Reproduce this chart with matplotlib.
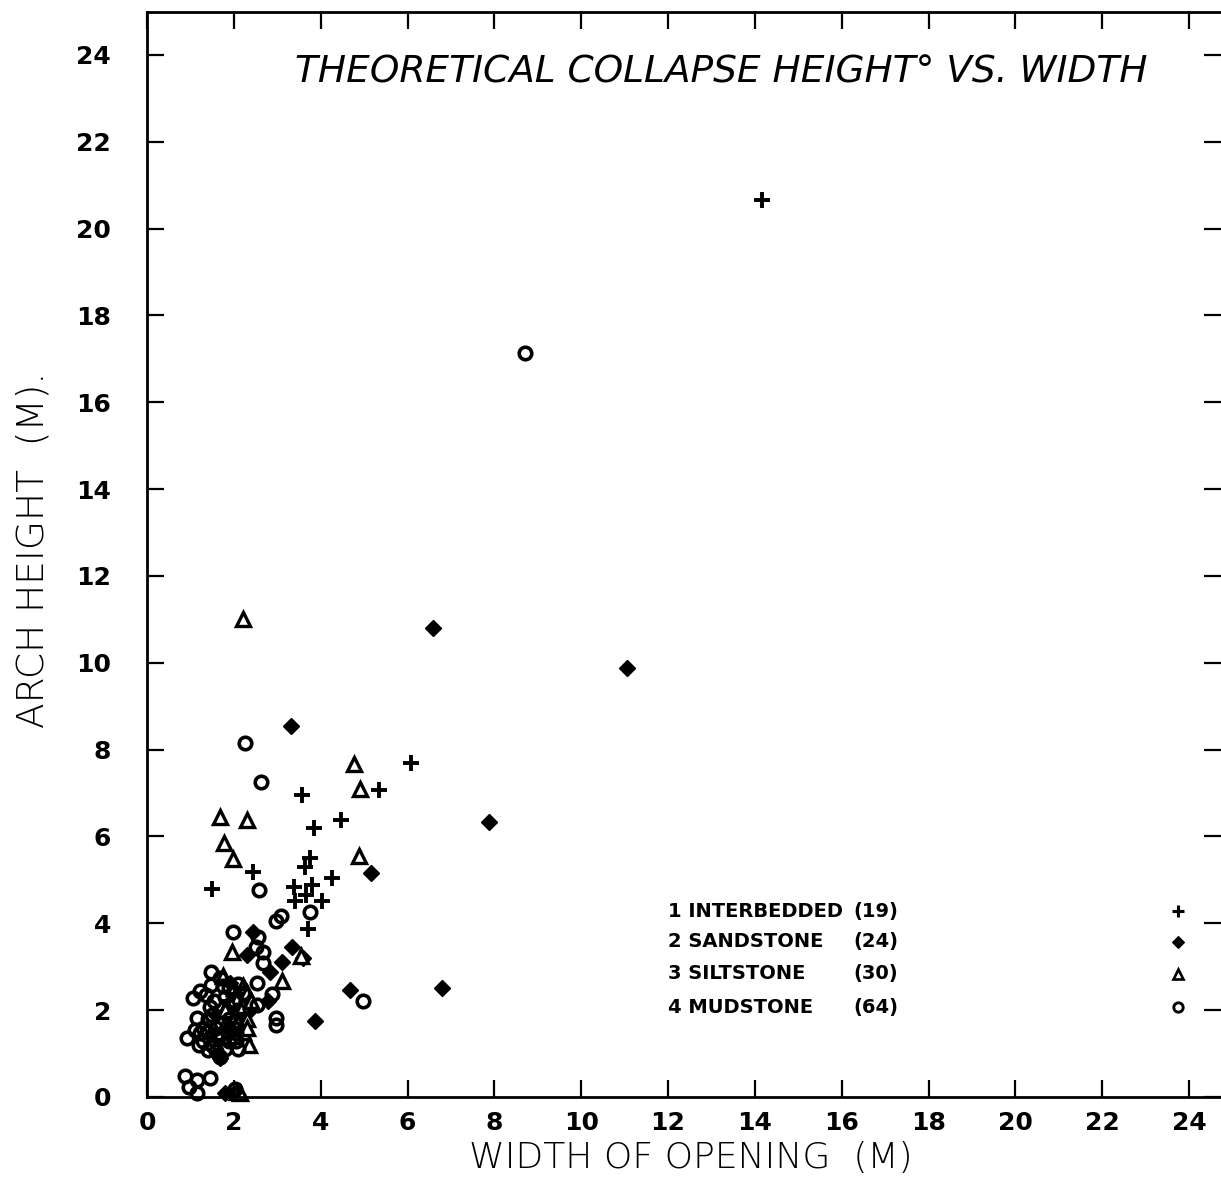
import matplotlib
matplotlib.use("Agg")
import matplotlib.pyplot as plt

# ---- data (width m, height m) ----
inter_x = [14.16, 6.08, 5.35, 3.56, 4.47, 3.85, 3.75, 3.65, 2.45, 1.50,
           4.25, 3.39, 3.81, 3.66, 3.41, 4.04, 3.70, 1.90, 2.20]
inter_y = [20.66, 7.70, 7.07, 6.96, 6.38, 6.20, 5.51, 5.30, 5.19, 4.78,
           5.04, 4.84, 4.88, 4.65, 4.51, 4.51, 3.86, 2.20, 2.00]

sand_x = [6.59, 11.05, 3.32, 7.88, 5.16, 6.79, 4.68, 3.87, 2.45, 3.35,
          2.31, 3.10, 3.60, 2.83, 2.30, 1.68, 2.79, 1.80, 1.91, 2.10,
          1.90, 2.20, 1.60, 2.00]
sand_y = [10.80, 9.88, 8.54, 6.33, 5.17, 2.51, 2.46, 1.74, 3.81, 3.46,
          3.27, 3.12, 3.19, 2.89, 1.93, 0.90, 2.20, 0.09, 2.62, 2.30,
          1.60, 1.70, 1.90, 0.10]

silt_x = [2.20, 4.77, 4.91, 1.67, 2.30, 1.78, 1.99, 4.89, 1.95, 1.76,
          3.12, 2.35, 2.22, 2.07, 3.55, 2.00, 2.10, 2.20, 2.30, 2.00,
          2.10, 2.30, 2.40, 1.90, 2.20, 1.80, 2.00, 2.30, 2.15, 1.70]
silt_y = [11.00, 7.66, 7.09, 6.46, 6.38, 5.84, 5.48, 5.55, 3.33, 2.79,
          2.68, 1.20, 2.56, 0.12, 3.25, 2.50, 2.30, 2.10, 2.40, 1.90,
          1.70, 1.80, 2.20, 2.20, 1.50, 2.00, 1.40, 1.60, 0.10, 1.50]

mud_x = [8.71, 2.26, 2.63, 2.58, 3.75, 3.09, 2.97, 1.99, 2.56, 2.51,
         2.68, 2.68, 4.97, 1.47, 1.47, 1.23, 1.05, 2.54, 2.87, 2.54,
         2.97, 2.97, 1.16, 0.91, 1.41, 2.06, 2.06, 0.88, 1.16, 1.45,
         0.97, 1.16, 2.03, 1.68, 2.03, 1.45, 1.22, 1.68,
         1.30, 1.40, 1.50, 1.60, 1.30, 1.50, 1.60, 1.70, 1.40, 1.20,
         1.55, 1.80, 1.90, 2.00, 2.10, 1.90, 2.00, 2.10, 1.90, 1.80,
         1.35, 1.75, 2.20, 1.10, 2.10, 1.60]
mud_y = [17.13, 8.15, 7.25, 4.77, 4.27, 4.17, 4.05, 3.81, 3.68, 3.46,
         3.35, 3.08, 2.22, 2.89, 2.58, 2.43, 2.28, 2.62, 2.37, 2.12,
         1.81, 1.66, 1.81, 1.35, 1.08, 1.28, 1.48, 0.48, 0.39, 0.43,
         0.22, 0.09, 0.18, 0.93, 1.70, 2.08, 1.47, 2.73,
         1.60, 1.80, 1.90, 1.60, 1.30, 1.20, 1.40, 1.70, 1.50, 1.20,
         2.20, 2.30, 2.50, 2.20, 2.00, 1.80, 1.60, 1.10, 1.30, 1.10,
         2.35, 2.55, 2.40, 1.55, 2.60, 1.05]

legend_names = ["1 INTERBEDDED", "2 SANDSTONE", "3 SILTSTONE", "4 MUDSTONE"]
legend_counts = ["(19)", "(24)", "(30)", "(64)"]

x_ticks = list(range(0, 25, 2))
y_ticks = list(range(0, 25, 2))

# ---- figure ----
fig = plt.figure(figsize=(12.21, 11.82), dpi=100)
ax = fig.add_axes([147 / 1221, 85 / 1182, 1074 / 1221, 1085 / 1182])
ax.set_xlim(0, 1074 / 43.42)
ax.set_ylim(0, 1085 / 43.42)

styles = [
    dict(marker="+", ms=11, mew=2.8, mfc="none", mec="black"),
    dict(marker="D", ms=8, mew=1.0, mfc="black", mec="black"),
    dict(marker="^", ms=9.5, mew=2.4, mfc="white", mec="black"),
    dict(marker="o", ms=9, mew=2.6, mfc="none", mec="black"),
]
series = [(inter_x, inter_y), (sand_x, sand_y), (silt_x, silt_y), (mud_x, mud_y)]
for (xs, ys), st in zip(series, styles):
    ax.plot(xs, ys, linestyle="none", clip_on=False, **st)

# ticks: inward on all four sides
ax.set_xticks(x_ticks)
ax.set_yticks(y_ticks)
ax.tick_params(direction="in", length=12, width=1.6, top=True, right=True,
               labelsize=18)
ax.tick_params(axis="y", pad=26)
ax.tick_params(axis="x", pad=10)
for lab in ax.get_xticklabels() + ax.get_yticklabels():
    lab.set_fontweight("bold")
for s in ["left", "bottom", "top"]:
    ax.spines[s].set_linewidth(2.0)
ax.spines["right"].set_visible(False)

# title inside the axes
ax.text(0.535, 0.944, "THEORETICAL COLLAPSE HEIGHT\u00b0 VS. WIDTH",
        transform=ax.transAxes, ha="center", va="center",
        fontsize=27, style="italic", fontweight="light")

# axis labels
fig.text(691 / 1221, 1 - 1158 / 1182, "WIDTH OF OPENING  (M)",
         ha="center", va="center", fontsize=26, fontweight="light")
fig.text(33 / 1221, 1 - 550 / 1182, "ARCH HEIGHT  (M).",
         ha="center", va="center", rotation=90, fontsize=27,
         fontweight="light")

# legend block
leg_y = [0.1714, 0.1429, 0.1134, 0.0829]
for name, cnt, yy, st in zip(legend_names, legend_counts, leg_y, styles):
    ax.text(0.485, yy, name, transform=ax.transAxes, ha="left", va="center",
            fontsize=14, fontweight="bold")
    ax.text(0.6575, yy, cnt, transform=ax.transAxes, ha="left", va="center",
            fontsize=14, fontweight="bold")
    small = dict(st)
    small["ms"] = st["ms"] * 0.75
    small["mew"] = st["mew"] * 0.8
    ax.plot([0.960], [yy], transform=ax.transAxes, linestyle="none", **small)

fig.savefig("out.png", dpi=100)
